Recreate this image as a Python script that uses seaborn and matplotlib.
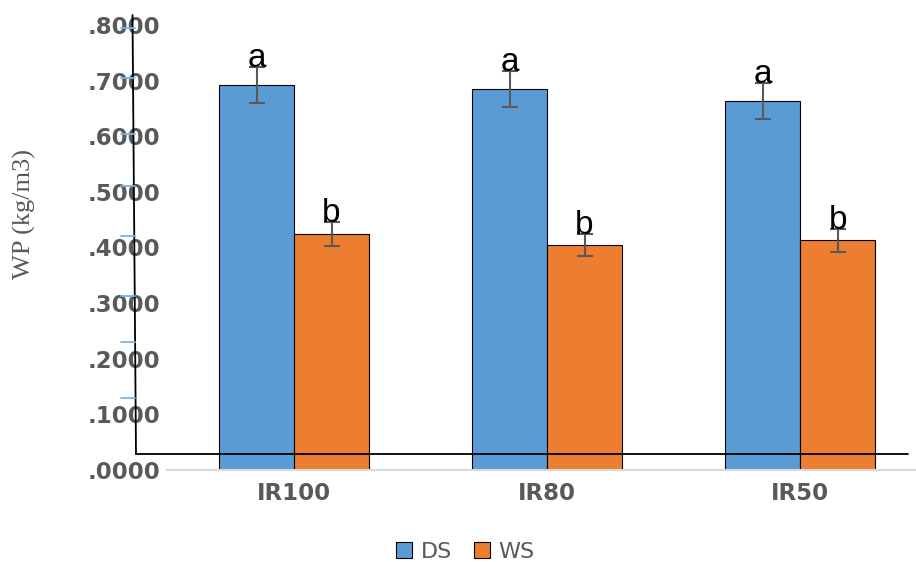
import pandas as pd
import matplotlib.pyplot as plt
import seaborn as sns
from matplotlib.lines import Line2D

# values
treatments = ['IR100', 'IR80', 'IR50']
seasons = ['DS', 'WS']
ds_values = [0.692, 0.685, 0.663]
ws_values = [0.424, 0.405, 0.413]
ds_errors = [0.032, 0.032, 0.032]
ws_errors = [0.021, 0.020, 0.021]
ds_letters = ['a', 'a', 'a']
ws_letters = ['b', 'b', 'b']
y_ticks = [0.0, 0.1, 0.2, 0.3, 0.4, 0.5, 0.6, 0.7, 0.8]

colors = {'DS': '#5b9bd5', 'WS': '#ed7d31'}
grey = '#595959'

df = pd.DataFrame({
    'Treatment': treatments * 2,
    'Season': ['DS'] * 3 + ['WS'] * 3,
    'WP': ds_values + ws_values,
})

sns.set_style('white')
plt.rcParams['font.family'] = ['DejaVu Sans']

W, H = 916, 562
fig = plt.figure(figsize=(W / 100, H / 100), dpi=100)
ax = fig.add_axes([167 / W, 1 - 470 / H, 749 / W, 445 / H])

sns.barplot(data=df, x='Treatment', y='WP', hue='Season', order=treatments,
            hue_order=seasons, palette=colors, saturation=1, width=0.593,
            edgecolor='black', linewidth=0.8, ax=ax)

errs = [ds_errors, ws_errors]
letters = [ds_letters, ws_letters]
for container, err, lab in zip(ax.containers, errs, letters):
    for bar, e, t in zip(container, err, lab):
        x = bar.get_x() + bar.get_width() / 2
        y = bar.get_height()
        ax.errorbar(x, y, yerr=e, color=grey, capsize=5.5, elinewidth=1.5,
                    capthick=1.5, fmt='none', zorder=3)
        ax.text(x, y + e, t, ha='center', va='baseline', fontsize=24,
                family='Liberation Sans', color='black', zorder=4)

ax.set_xlim(-0.502, 2.458)
ax.set_ylim(0, 0.8)
ax.set_yticks(y_ticks)
ax.set_yticklabels(['.%04d' % round(v * 10000) for v in y_ticks])
ax.tick_params(axis='y', length=0, pad=5, labelsize=16.5, labelcolor=grey)
ax.tick_params(axis='x', length=0, pad=9, labelsize=16.5, labelcolor=grey)
for lbl in ax.get_xticklabels() + ax.get_yticklabels():
    lbl.set_fontweight('bold')

ax.set_xlabel('')
ax.set_ylabel('WP (kg/m3)', family='Liberation Serif', fontsize=19, color=grey)
ax.yaxis.set_label_coords(-0.175, 0.575)

for side in ['top', 'right', 'left']:
    ax.spines[side].set_visible(False)
ax.spines['bottom'].set_color('#d9d9d9')
ax.spines['bottom'].set_linewidth(1.5)

# hand-drawn axis lines and blue ticks on top of the chart
def px(x, y):
    return x / W, 1 - y / H

fig.add_artist(Line2D(*zip(px(132.5, 15), px(136, 454)), color='black', lw=1.3,
                      transform=fig.transFigure))
fig.add_artist(Line2D(*zip(px(136, 454), px(908, 454)), color='black', lw=1.3,
                      transform=fig.transFigure))
for yp in [28, 78, 134, 186, 236, 296, 342, 398]:
    fig.add_artist(Line2D(*zip(px(121, yp), px(135, yp)), color='#7fb0e0', lw=1.3,
                          transform=fig.transFigure))

handles, labels = ax.get_legend_handles_labels()
ax.legend_.remove()
leg = fig.legend(handles, labels, loc='center', bbox_to_anchor=(0.508, 0.018),
                 ncol=2, frameon=False, fontsize=16, handlelength=0.7,
                 handleheight=0.7, handletextpad=0.4, columnspacing=1.0)
for t in leg.get_texts():
    t.set_color(grey)

fig.savefig('out.png', dpi=100)
